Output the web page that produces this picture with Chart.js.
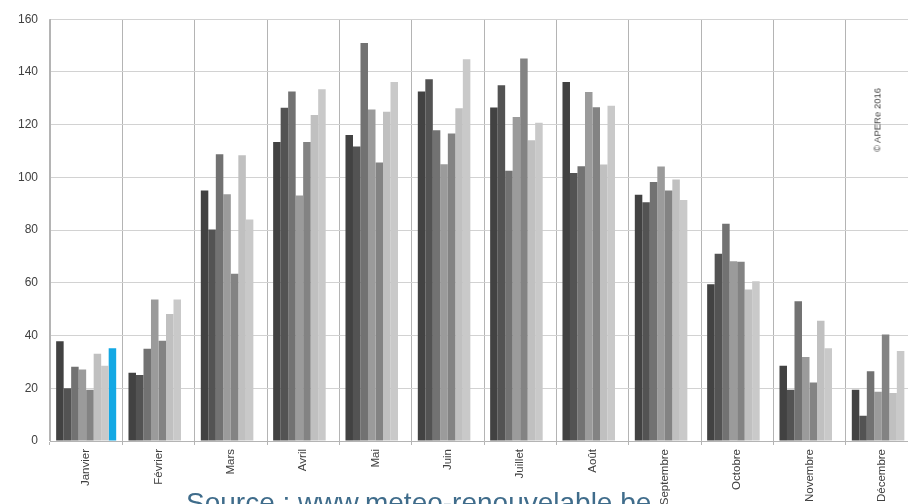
<!DOCTYPE html>
<html lang="fr">
<head>
<meta charset="utf-8">
<title>Ensoleillement mensuel</title>
<script src="https://cdn.jsdelivr.net/npm/chart.js@4/dist/chart.umd.min.js"></script>
<style>
  html, body { margin: 0; padding: 0; background: #fff; overflow: hidden; }
  #wrap { position: relative; width: 918px; height: 504px; }
  #source {
    position: absolute; left: 186px; top: 489px;
    font: 28px/28px 'Liberation Sans', Arial, sans-serif; color: #3f6c8b;
    white-space: nowrap;
  }
  #copy {
    position: absolute; left: 877px; top: 120px;
    transform: translate(-50%, -50%) rotate(-90deg);
    font: normal 9.5px 'Liberation Sans', Arial, sans-serif; color: #444;
    white-space: nowrap;
  }
</style>
</head>
<body>
<div id="wrap">
  <canvas id="grafico" width="918" height="504"></canvas>
  <div id="source">Source : www.meteo-renouvelable.be</div>
  <div id="copy">© APERe 2016</div>
</div>
<script>
'use strict';

// ── Données ─────────────────────────────────────────────
const mois = ['Janvier', 'Février', 'Mars', 'Avril', 'Mai', 'Juin',
  'Juillet', 'Août', 'Septembre', 'Octobre', 'Novembre', 'Décembre'];

const annee1 = [37.8, 25.9, 95.0, 113.4, 116.1, 132.6, 126.5, 136.2, 93.4, 59.5, 28.5, 19.4];
const annee2 = [20.0, 25.0, 80.2, 126.4, 111.7, 137.2, 134.9, 101.7, 90.6, 71.0, 19.4, 9.6];
const annee3 = [28.2, 35.0, 108.8, 132.6, 151.0, 117.9, 102.5, 104.2, 98.2, 82.4, 53.0, 26.5];
const annee4 = [27.1, 53.7, 93.6, 93.1, 125.7, 105.0, 122.9, 132.4, 104.1, 68.2, 31.9, 18.7];
const annee5 = [19.4, 38.0, 63.4, 113.4, 105.6, 116.6, 145.1, 126.6, 95.0, 68.0, 22.2, 40.4];
const annee6 = [33.1, 48.2, 108.4, 123.7, 124.9, 126.2, 114.1, 104.9, 99.2, 57.5, 45.6, 18.2];
const annee7 = [28.5, 53.7, 84.0, 133.4, 136.2, 144.8, 120.7, 127.2, 91.4, 60.6, 35.2, 34.1];
const annee8 = [35.2, null, null, null, null, null, null, null, null, null, null, null];

const yTicks = [0, 20, 40, 60, 80, 100, 120, 140, 160];

const series = [annee1, annee2, annee3, annee4, annee5, annee6, annee7, annee8];
const couleurs = ['#424242', '#535353', '#727272', '#9b9b9b', '#838383', '#c0c0c0', '#c9c9c9', '#13a8e4'];
const noms = ['2009', '2010', '2011', '2012', '2013', '2014', '2015', '2016'];

const police = "'Liberation Sans', Arial, sans-serif";

const ctx = document.getElementById('grafico').getContext('2d');

new Chart(ctx, {
  type: 'bar',
  data: {
    labels: mois,
    datasets: series.map((d, i) => ({
      label: noms[i],
      data: d,
      backgroundColor: couleurs[i],
      borderWidth: 0,
      barPercentage: 1,
      categoryPercentage: 0.83
    }))
  },
  options: {
    responsive: false,
    animation: false,
    layout: { padding: { top: 14, left: 0, right: 0, bottom: 0 } },
    plugins: {
      legend: { display: false },
      tooltip: { enabled: false }
    },
    scales: {
      x: {
        offset: true,
        grid: { color: '#b4b4b4', lineWidth: 1, tickLength: 4, offset: true },
        border: { color: '#b4b4b4' },
        ticks: {
          color: '#404040', font: { family: police, size: 11.5 },
          minRotation: 90, maxRotation: 90, autoSkip: false, padding: 4
        },
        afterFit: s => { s.height = 63; }
      },
      y: {
        min: 0, max: 160,
        afterBuildTicks: s => { s.ticks = yTicks.map(v => ({ value: v })); },
        grid: { color: '#d2d2d2', drawTicks: false },
        border: { color: '#b4b4b4' },
        ticks: { color: '#404040', font: { family: police, size: 12 }, padding: 12 },
        afterFit: s => { s.width = 50; }
      }
    }
  }
});
</script>
</body>
</html>
